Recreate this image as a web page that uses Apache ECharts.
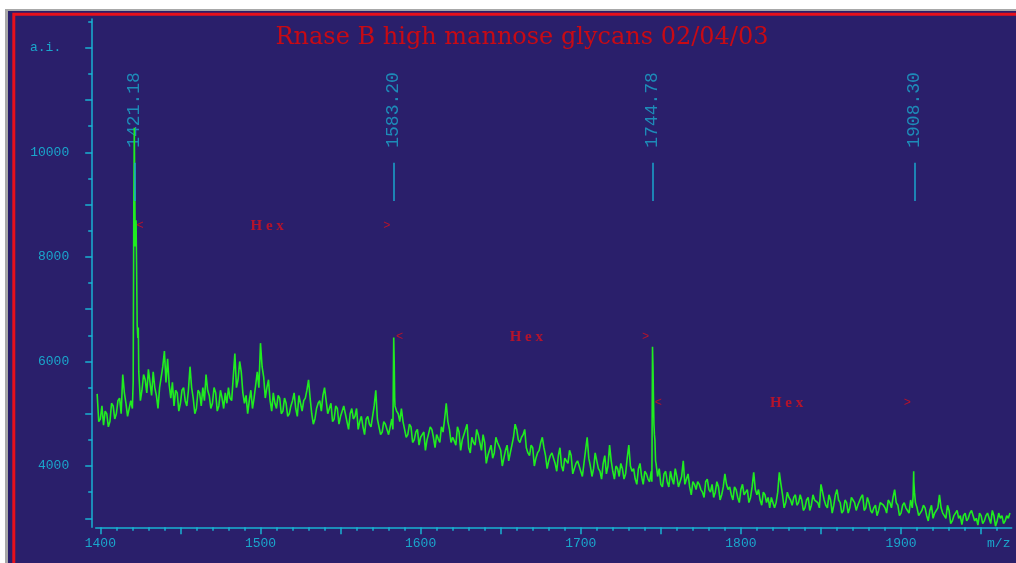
<!DOCTYPE html>
<html>
<head>
<meta charset="utf-8">
<script src="https://cdn.jsdelivr.net/npm/echarts@6/dist/echarts.min.js"></script>
<style>
  html, body { margin: 0; padding: 0; background: #ffffff; }
  #chart { width: 1016px; height: 563px; }
</style>
</head>
<body>
<div id="chart"></div>
<script>
// spectrum samples at even m/z, 1398 .. 1968 (a.i.)
const evenStart = 1398;
const intensityEven = [
  5380, 4900, 4780, 5000, 4850, 5150, 5000, 5300, 5750, 5200, // 1398
  4950, 5100, 8400, 5800, 5450, 5650, 5850, 5350, 5500, 5100, // 1418
  5700, 6200, 6050, 5300, 5150, 5400, 5200, 5500, 5150, 5900, // 1438
  5300, 5100, 5400, 5500, 5750, 5350, 5200, 5400, 5150, 5300, // 1458
  5400, 5500, 5250, 6150, 5650, 5800, 5200, 5000, 5450, 5300, // 1478
  5800, 6350, 5700, 5500, 5250, 5400, 5100, 5300, 5050, 5200, // 1498
  5000, 5250, 5100, 5350, 5050, 5300, 5650, 5000, 4900, 5200, // 1518
  5050, 5500, 5000, 5200, 4900, 5100, 4950, 5150, 4850, 5000, // 1538
  4900, 5100, 4850, 4750, 4900, 4800, 4950, 5450, 4750, 4650, // 1558
  4800, 4600, 4900, 5150, 5000, 5100, 4700, 4600, 4750, 4500, // 1578
  4700, 4550, 4650, 4500, 4750, 4550, 4600, 4450, 4650, 5200, // 1598
  4700, 4550, 4400, 4650, 4500, 4700, 4350, 4550, 4400, 4600, // 1618
  4300, 4450, 4200, 4400, 4250, 4450, 4300, 4150, 4400, 4250, // 1638
  4550, 4700, 4450, 4600, 4350, 4200, 4350, 4150, 4300, 4550, // 1658
  4200, 4100, 4250, 4050, 4200, 4000, 4150, 4050, 4200, 3950, // 1678
  4100, 3900, 4050, 4550, 4000, 3950, 4100, 3900, 4050, 3850, // 1698
  4400, 3900, 4000, 3800, 3950, 3850, 4400, 3900, 3750, 3950, // 1718
  3800, 3900, 3750, 3900, 4600, 3800, 3650, 3850, 3700, 3900, // 1738
  3650, 3800, 3700, 4100, 3750, 3600, 3700, 3550, 3650, 3500, // 1758
  3700, 3550, 3650, 3500, 3600, 3450, 3850, 3550, 3450, 3600, // 1778
  3400, 3550, 3450, 3550, 3400, 3880, 3450, 3350, 3500, 3300, // 1798
  3200, 3400, 3300, 3880, 3450, 3300, 3400, 3250, 3450, 3300, // 1818
  3350, 3200, 3400, 3250, 3350, 3300, 3650, 3350, 3200, 3350, // 1838
  3250, 3550, 3300, 3150, 3300, 3200, 3350, 3150, 3250, 3450, // 1858
  3200, 3300, 3100, 3250, 3150, 3300, 3200, 3350, 3200, 3550, // 1878
  3250, 3100, 3300, 3150, 3350, 3700, 3200, 3100, 3250, 3050, // 1898
  3150, 3000, 3150, 3450, 3100, 3000, 3150, 2950, 3100, 3000, // 1918
  2880, 3100, 3000, 3150, 2950, 2870, 3050, 2950, 3100, 2900, // 1938
  3050, 2950, 3000, 2900, 3050, 3100                          // 1958
];

// spectrum samples at odd m/z, 1399 .. 1967 (null = covered by peak detail)
const oddStart = 1399;
const intensityOdd = [
  4850, 5150, 5050, 4750, 5200, 4900, 5250, 5000, 5400, 4950, // 1399
  5250, null, null, 5250, 5750, 5400, 5600, 5800, 5350, 5500, // 1419
  5900, 5600, 5550, 5600, 5450, 5050, 5450, 5250, 5450, 5500, // 1439
  5000, 5450, 5150, 5250, 5450, 5100, 5500, 5050, 5450, 5100, // 1459
  5200, 5300, 5700, 5500, 6000, 5400, 5350, 5250, 5100, 5550, // 1479
  5500, 5900, 5300, 5650, 5050, 5200, 5350, 5000, 5300, 4950, // 1499
  5150, 5400, 4950, 5200, 5250, 5450, 5300, 4800, 5100, 5250, // 1519
  5350, 5250, 5100, 4850, 5150, 4800, 5050, 5000, 4700, 5100, // 1539
  4950, 4700, 4950, 4600, 4950, 4750, 5150, 4900, 4600, 4850, // 1559
  4700, 4750, null, 5050, 4850, 4850, 4550, 4800, 4450, 4650, // 1579
  4400, 4600, 4300, 4620, 4700, 4350, 4520, 4750, 4900, 4850, // 1599
  4450, 4480, 4750, 4300, 4600, 4800, 4250, 4450, 4700, 4450, // 1619
  4600, 4050, 4300, 4150, 4550, 4380, 4000, 4300, 4100, 4400, // 1639
  4800, 4500, 4550, 4700, 4250, 4400, 4000, 4250, 4450, 4350, // 1659
  3950, 4200, 4150, 3900, 4350, 3900, 4100, 4300, 3850, 4050, // 1679
  4000, 3800, 4300, 4150, 3800, 4250, 3950, 3750, 4200, 4000, // 1699
  4100, 3750, 3950, 4050, 3750, 4150, 4000, 3950, 3650, 4050, // 1719
  3650, 3850, 3700, null, 4050, 3950, 3600, 3900, 3600, 3750, // 1739
  3950, 3600, 3800, 3650, 3850, 3450, 3650, 3700, 3550, 3400, // 1759
  3750, 3500, 3400, 3700, 3350, 3600, 3650, 3600, 3350, 3550, // 1779
  3300, 3650, 3500, 3300, 3600, 3550, 3550, 3250, 3450, 3400, // 1799
  3400, 3200, 3500, 3650, 3200, 3500, 3350, 3400, 3250, 3450, // 1819
  3150, 3350, 3150, 3450, 3350, 3200, 3500, 3250, 3450, 3100, // 1839
  3450, 3350, 3100, 3350, 3100, 3400, 3300, 3250, 3400, 3150, // 1859
  3400, 3150, 3200, 3050, 3300, 3250, 3100, 3300, 3400, 3300, // 1879
  3050, 3250, 3200, 3100, 3200, 3300, 3050, 3150, 3200, 2950, // 1899
  3250, 3100, 3200, 3200, 3050, 3250, 2900, 3050, 3150, 3050, // 1919
  3050, 2950, 3100, 3050, 3000, 3100, 2900, 3050, 3000, 3150, // 1939
  2850, 3100, 3050, 2950, 3000                                // 1959
];

// extra points around the labelled peaks
const peakDetailMz = [
  1420.5, 1420.9, 1421.2, 1421.5, 1421.8, 1422.3, 1422.6, 1423.0, 1423.4, 1423.7,
  1582.7, 1583.2, 1583.5, 1583.8,
  1744.4, 1744.8, 1745.1, 1745.4, 1745.7, 1746.3, 1746.7,
  1907.5, 1907.9, 1908.4
];
const peakDetailIntensity = [
  5600, 9000, 10470, 9300, 8200, 8700, 7900, 6700, 6450, 6650,
  4700, 6460, 6000, 5300,
  3700, 6280, 5900, 5300, 4800, 4500, 4100,
  3400, 3900, 3500
];

const peakMasses = [1421.18, 1583.20, 1744.78, 1908.30];
const hexLevels = [8590, 6470, 5200];

const xTickLabels = [1400, 1500, 1600, 1700, 1800, 1900];
const yTickLabels = [4000, 6000, 8000, 10000];

const navy = '#2a1f6b';
const cyan = '#18b2d2';
const cyanText = '#1aa6cc';
const red = '#d8101c';

const spectrum = intensityEven.map((v, i) => [evenStart + 2 * i, v])
  .concat(intensityOdd.map((v, i) => [oddStart + 2 * i, v]).filter(p => p[1] !== null))
  .concat(peakDetailMz.map((m, i) => [m, peakDetailIntensity[i]]))
  .sort((a, b) => a[0] - b[0]);

function range(a, b, step) {
  const out = [];
  for (let v = a; v <= b; v += step) out.push(v);
  return out;
}

const hexData = [];
for (let i = 0; i < hexLevels.length; i++) {
  const y = hexLevels[i];
  hexData.push({ value: [peakMasses[i] + 3.6, y], name: '<' });
  hexData.push({
    value: [(peakMasses[i] + peakMasses[i + 1]) / 2 + 2, y], name: 'H e x',
    label: { fontFamily: 'Liberation Serif', fontWeight: 'bold', fontSize: 15 }
  });
  hexData.push({ value: [peakMasses[i + 1] - 4.3, y], name: '>' });
}

const monoFont = 'Liberation Mono';

const chart = echarts.init(document.getElementById('chart'));
chart.setOption({
  animation: false,
  backgroundColor: '#ffffff',
  graphic: [
    { type: 'rect', z: -10, shape: { x: 5, y: 9, width: 1011, height: 554 }, style: { fill: '#a8a8a8' } },
    { type: 'rect', z: -10, shape: { x: 8, y: 11, width: 1008, height: 552 }, style: { fill: navy } },
    {
      type: 'polyline', z: -9,
      shape: { points: [[13.8, 563], [13.8, 14.2], [1016, 14.2]] },
      style: { stroke: '#e8101c', lineWidth: 3, fill: null }
    }
  ],
  title: {
    text: 'Rnase B high mannose glycans 02/04/03',
    left: 517,
    top: 21,
    textAlign: 'center',
    textStyle: { fontFamily: 'DejaVu Serif', fontSize: 24, fontWeight: 'normal', color: '#c80a14' }
  },
  grid: { left: 95.7, right: 4.3, top: 19, bottom: 35.7 },
  xAxis: [{
    type: 'value', min: 1397.1, max: 1969.1,
    axisLine: { lineStyle: { color: cyan, width: 1.5 } },
    axisTick: { customValues: range(1400, 1950, 50), length: 7, lineStyle: { color: cyan, width: 1.5 } },
    axisLabel: {
      customValues: xTickLabels.concat([1961]),
      formatter: v => (v === 1961 ? 'm/z' : String(v)),
      margin: 10, color: cyanText, fontFamily: monoFont, fontSize: 13
    },
    splitLine: { show: false }
  }, {
    type: 'value', min: 1397.1, max: 1969.1, position: 'bottom',
    axisLine: { show: false },
    axisTick: { customValues: range(1410, 1960, 10).filter(v => v % 50 !== 0), length: 3.5, lineStyle: { color: cyan, width: 1.5 } },
    axisLabel: { show: false },
    splitLine: { show: false }
  }],
  yAxis: [{
    type: 'value', min: 2828, max: 12550, offset: 3.5,
    axisLine: { show: true, lineStyle: { color: cyan, width: 1.5 } },
    axisTick: { show: true, customValues: range(3000, 12000, 1000), length: 7, lineStyle: { color: cyan, width: 1.5 } },
    axisLabel: {
      customValues: yTickLabels.concat([12000]),
      formatter: v => (v === 12000 ? '{ai|a.i.}' : String(v)),
      margin: 23, color: cyanText, fontFamily: monoFont, fontSize: 13,
      rich: { ai: { color: cyanText, fontFamily: monoFont, fontSize: 13, padding: [0, 8, 0, 0] } }
    },
    splitLine: { show: false }
  }, {
    type: 'value', min: 2828, max: 12550, offset: 3.5, position: 'left',
    axisLine: { show: false },
    axisTick: { show: true, customValues: range(3500, 12500, 1000), length: 4, lineStyle: { color: cyan, width: 1.5 } },
    axisLabel: { show: false },
    splitLine: { show: false }
  }],
  series: [{
    type: 'scatter',
    data: peakMasses.map(m => [m, 9800]),
    symbolSize: 0,
    z: 2,
    label: {
      show: true, position: 'top', distance: 15, rotate: 90,
      align: 'left', verticalAlign: 'middle',
      formatter: p => p.value[0].toFixed(2),
      fontFamily: monoFont, fontSize: 18, color: cyanText
    },
    markLine: {
      silent: true, symbol: ['none', 'none'],
      label: { show: false },
      lineStyle: { color: cyanText, width: 1.5, type: 'solid' },
      data: peakMasses.map(m => [{ coord: [m, 9070] }, { coord: [m, 9800] }])
    }
  }, {
    type: 'line',
    data: spectrum,
    showSymbol: false,
    z: 3,
    lineStyle: { color: '#20ec20', width: 1.6 }
  }, {
    type: 'scatter',
    data: hexData,
    symbolSize: 0,
    z: 4,
    label: {
      show: true, position: 'inside', formatter: '{b}',
      color: red, fontFamily: monoFont, fontSize: 12
    }
  }]
});
</script>
</body>
</html>
